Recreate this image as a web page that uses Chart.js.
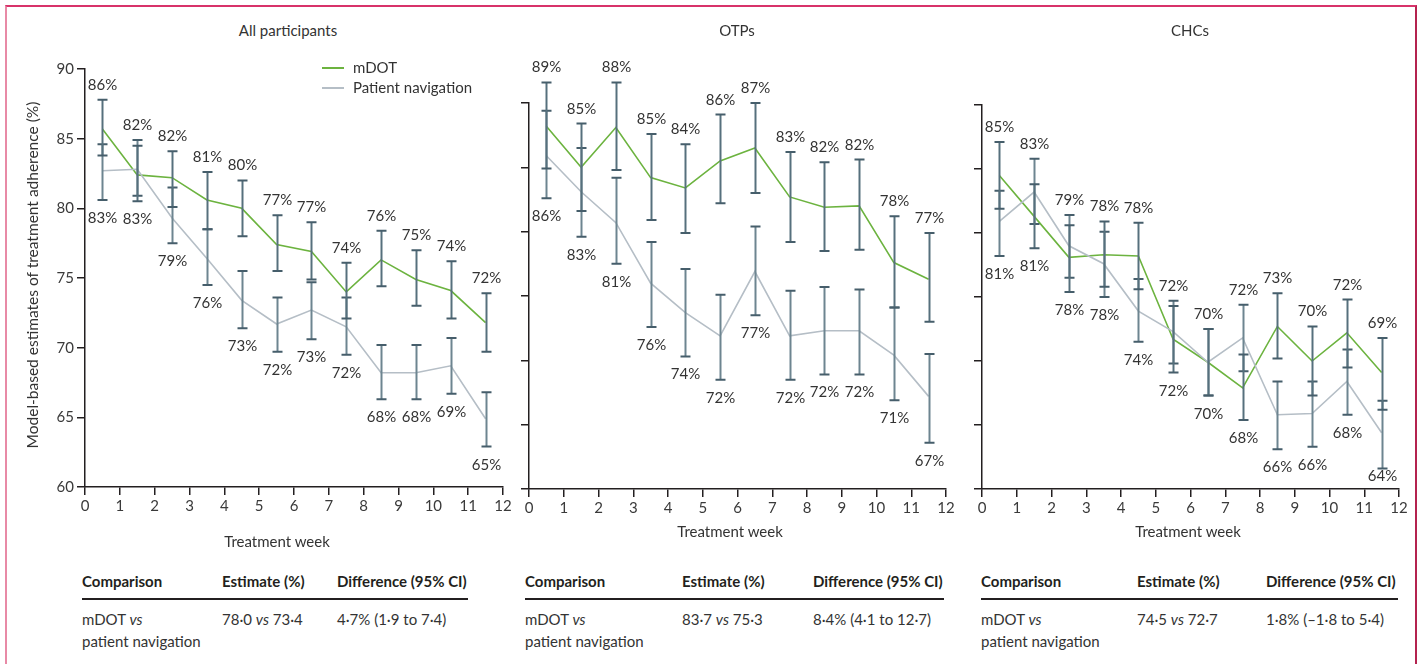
<!DOCTYPE html>
<html>
<head>
<meta charset="utf-8">
<script src="https://cdn.jsdelivr.net/npm/chart.js@4.4.1/dist/chart.umd.min.js"></script>
<style>
  body { margin: 0; background: #fff; font-family: Lato, "Open Sans", sans-serif; color: #333; }
  #page { position: relative; width: 1423px; height: 664px; overflow: hidden; }
  canvas { position: absolute; }
  .txt { position: absolute; font-size: 15px; white-space: nowrap; line-height: 18px; }
  .title { text-align: center; width: 200px; }
  .hdr { font-weight: bold; color: #231f20; }
  .rule { position: absolute; height: 2px; background: #231f20; }
  .leg { position: absolute; height: 2px; width: 22px; }
  #frame { position: absolute; left: 5px; top: 5px; width: 1408px; height: 700px;
           border-top: 2px solid #d8336a; border-left: 2px solid #e88aa6; border-right: 2px solid #b4234f; }
</style>
</head>
<body>
<div id="page">
  <div id="frame"></div>
  <canvas id="c1" width="500" height="500" style="left:20px;top:40px;width:500px;height:500px"></canvas>
  <canvas id="c2" width="450" height="500" style="left:515px;top:40px;width:450px;height:500px"></canvas>
  <canvas id="c3" width="450" height="500" style="left:968px;top:40px;width:450px;height:500px"></canvas>
</div>
<script>
// weeks (mid-points of each treatment week)
var weeks = [0.5, 1.5, 2.5, 3.5, 4.5, 5.5, 6.5, 7.5, 8.5, 9.5, 10.5, 11.5];
var xTicks = [0, 1, 2, 3, 4, 5, 6, 7, 8, 9, 10, 11, 12];
var yTicks = [60, 65, 70, 75, 80, 85, 90];

// All participants
var allM   = [85.7, 82.4, 82.2, 80.6, 80.0, 77.4, 76.9, 74.0, 76.3, 74.9, 74.1, 71.8];
var allMLo = [83.8, 80.5, 80.1, 78.5, 78.0, 75.5, 74.9, 72.1, 74.4, 73.0, 72.1, 69.7];
var allMHi = [87.8, 84.5, 84.1, 82.6, 82.0, 79.5, 79.0, 76.1, 78.4, 77.0, 76.2, 73.9];
var allP   = [82.7, 82.8, 79.3, 76.4, 73.4, 71.7, 72.7, 71.5, 68.2, 68.2, 68.7, 64.9];
var allPLo = [80.6, 80.9, 77.5, 74.5, 71.4, 69.7, 70.6, 69.5, 66.3, 66.3, 66.7, 62.9];
var allPHi = [84.6, 84.9, 81.5, 78.5, 75.5, 73.6, 74.7, 73.6, 70.2, 70.2, 70.7, 66.8];
var allTop = [86, 82, 82, 81, 80, 77, 77, 74, 76, 75, 74, 72];
var allBot = [83, 83, 79, 76, 73, 72, 73, 72, 68, 68, 69, 65];

// OTPs
var otpM   = [88.2, 85.0, 88.1, 84.2, 83.4, 85.5, 86.5, 82.7, 81.9, 82.0, 77.6, 76.3];
var otpMLo = [84.9, 81.6, 84.8, 80.9, 79.9, 82.2, 83.0, 79.2, 78.5, 78.6, 74.1, 73.0];
var otpMHi = [91.6, 88.4, 91.6, 87.6, 86.8, 89.1, 90.0, 86.2, 85.4, 85.6, 81.2, 79.9];
var otpP   = [85.9, 83.1, 80.7, 76.0, 73.7, 71.9, 76.9, 71.9, 72.3, 72.3, 70.4, 67.2];
var otpPLo = [82.6, 79.6, 77.5, 72.6, 70.3, 68.5, 73.5, 68.5, 68.9, 68.9, 66.9, 63.6];
var otpPHi = [89.4, 86.5, 84.2, 79.2, 77.1, 75.1, 80.4, 75.4, 75.7, 75.5, 74.1, 70.5];
var otpTop = [89, 85, 88, 85, 84, 86, 87, 83, 82, 82, 78, 77];
var otpBot = [86, 83, 81, 76, 74, 72, 77, 72, 72, 72, 71, 67];

// CHCs
var chcM   = [84.5, 81.3, 78.1, 78.3, 78.2, 71.7, 69.9, 67.9, 72.7, 70.0, 72.2, 69.1];
var chcMLo = [81.9, 78.8, 75.4, 75.8, 75.6, 69.1, 67.3, 65.4, 70.2, 67.3, 69.5, 66.2];
var chcMHi = [87.1, 83.8, 80.6, 80.9, 80.8, 74.3, 72.5, 70.5, 75.3, 72.7, 74.8, 71.8];
var chcP   = [80.9, 83.2, 79.0, 77.6, 73.9, 72.3, 69.9, 71.8, 65.8, 65.9, 68.4, 64.4];
var chcPLo = [78.2, 80.7, 76.5, 75.0, 71.5, 69.8, 67.3, 69.2, 63.1, 63.3, 65.8, 61.6];
var chcPHi = [83.3, 85.8, 81.4, 80.1, 76.4, 74.7, 72.5, 74.4, 68.4, 68.4, 70.9, 66.9];
var chcTop = [85, 83, 79, 78, 78, 72, 70, 72, 73, 70, 72, 69];
var chcBot = [81, 81, 78, 78, 74, 72, 70, 68, 66, 66, 68, 64];

// tables under each panel
var tblHeads = ["Comparison", "Estimate (%)", "Difference (95% CI)"];
var tblEst = ["78·0 <i>vs</i> 73·4", "83·7 <i>vs</i> 75·3", "74·5 <i>vs</i> 72·7"];
var tblDiff = ["4·7% (1·9 to 7·4)", "8·4% (4·1 to 12·7)", "1·8% (–1·8 to 5·4)"];

var titles = ["All participants", "OTPs", "CHCs"];

var green = "#6cb33f";
var grey = "#b5bec6";
var axisCol = "#231f20";

Chart.defaults.font.family = "Lato";
Chart.defaults.font.size = 15;
Chart.defaults.color = "#3a3a3a";

var errorBars = {
  id: "errorBars",
  afterDatasetsDraw: function(chart, args, opts) {
    var ctx = chart.ctx;
    var xs = chart.scales.x, ys = chart.scales.y;
    var bottom = chart.chartArea.bottom;
    ctx.save();
    for (var i = 0; i < weeks.length; i++) {
      var x = Math.round(xs.getPixelForValue(weeks[i])) + 0.5;
      var sets = [[opts.pLo[i], opts.pHi[i]], [opts.mLo[i], opts.mHi[i]]];
      sets.forEach(function(s, k) {
        var y1 = ys.getPixelForValue(s[0]), y2 = ys.getPixelForValue(s[1]);
        ctx.strokeStyle = k == 0 ? "#6d8590" : "#56707d";
        ctx.lineWidth = 2;
        ctx.beginPath(); ctx.moveTo(x, y1); ctx.lineTo(x, y2); ctx.stroke();
        ctx.strokeStyle = "#465e6b";
        ctx.beginPath();
        ctx.moveTo(x - 5, y1); ctx.lineTo(x + 5, y1);
        ctx.moveTo(x - 5, y2); ctx.lineTo(x + 5, y2);
        ctx.stroke();
      });
      var hi = Math.max(opts.mHi[i], opts.pHi[i]);
      var lo = Math.min(opts.mLo[i], opts.pLo[i]);
      ctx.fillStyle = "#333";
      ctx.font = "15px Lato";
      ctx.textAlign = "center";
      ctx.textBaseline = "alphabetic";
      ctx.fillText(opts.top[i] + "%", x, ys.getPixelForValue(hi) - 10);
      // keep the lower label clear of the x axis
      var yb = Math.min(ys.getPixelForValue(lo) + 23, bottom - 8);
      ctx.fillText(opts.bot[i] + "%", x, yb);
    }
    ctx.restore();
  }
};

function makePanel(id, m, mLo, mHi, p, pLo, pHi, top, bot, pad, yWidth, xHeight, showY) {
  return new Chart(document.getElementById(id), {
    type: "line",
    data: {
      datasets: [
        { label: "Patient navigation", data: weeks.map(function(w, i) { return { x: w, y: p[i] }; }),
          borderColor: grey, borderWidth: 1.6, pointRadius: 0, tension: 0 },
        { label: "mDOT", data: weeks.map(function(w, i) { return { x: w, y: m[i] }; }),
          borderColor: green, borderWidth: 1.6, pointRadius: 0, tension: 0 }
      ]
    },
    options: {
      responsive: false,
      animation: false,
      layout: { padding: pad },
      plugins: {
        legend: { display: false },
        tooltip: { enabled: false },
        errorBars: { m: m, mLo: mLo, mHi: mHi, pLo: pLo, pHi: pHi, top: top, bot: bot }
      },
      scales: {
        x: {
          type: "linear", min: 0, max: 12,
          afterBuildTicks: function(s) { s.ticks = xTicks.map(function(v) { return { value: v }; }); },
          afterFit: function(s) { s.height = xHeight; },
          ticks: { autoSkip: false, maxRotation: 0, padding: 2 },
          grid: { drawOnChartArea: false, tickLength: 8, color: axisCol, lineWidth: 1.5 },
          border: { color: axisCol, width: 1.5 }
        },
        y: {
          type: "linear", min: 60, max: 90,
          afterBuildTicks: function(s) { s.ticks = yTicks.map(function(v) { return { value: v }; }); },
          afterFit: function(s) { s.width = yWidth; },
          ticks: { display: showY, padding: 3 },
          grid: { drawOnChartArea: false, tickLength: 8, color: axisCol, lineWidth: 1.5 },
          border: { color: axisCol, width: 1.5 }
        }
      }
    },
    plugins: [errorBars]
  });
}

makePanel("c1", allM, allMLo, allMHi, allP, allPLo, allPHi, allTop, allBot,
  { left: 0, right: 17, top: 29, bottom: 0 }, 65, 53, true);
makePanel("c2", otpM, otpMLo, otpMHi, otpP, otpPLo, otpPHi, otpTop, otpBot,
  { left: 0, right: 19, top: 63, bottom: 0 }, 14, 51, false);
makePanel("c3", chcM, chcMLo, chcMHi, chcP, chcPLo, chcPHi, chcTop, chcBot,
  { left: 0, right: 19, top: 65, bottom: 0 }, 14, 51, false);

// html text: titles, axis titles, legend, tables
var page = document.getElementById("page");
function addText(html, left, top, cls, extra) {
  var d = document.createElement("div");
  d.className = "txt " + (cls || "");
  d.innerHTML = html;
  d.style.left = left + "px";
  d.style.top = top + "px";
  if (extra) d.style.cssText += extra;
  page.appendChild(d);
  return d;
}

var titleX = [288, 737, 1190];
titles.forEach(function(t, i) { addText(t, titleX[i] - 100, 21, "title"); });

addText("Model-based estimates of treatment adherence (%)", 32 - 200, 275 - 9, "",
  "width:400px;text-align:center;transform:rotate(-90deg);font-size:15.5px;");

var weekX = [277, 730, 1188], weekY = [532, 522, 522];
weekX.forEach(function(x, i) { addText("Treatment week", x - 100, weekY[i], "title"); });

// legend
[[green, "mDOT", 68], [grey, "Patient navigation", 88]].forEach(function(l) {
  var s = document.createElement("div");
  s.className = "leg";
  s.style.background = l[0];
  s.style.left = "322px";
  s.style.top = (l[2] - 1) + "px";
  page.appendChild(s);
  addText(l[1], 353, l[2] - 10);
});

// tables
var colX = [[82, 222, 337], [525, 682, 813], [981, 1137, 1266]];
var ruleR = [468, 944, 1398];
colX.forEach(function(c, i) {
  tblHeads.forEach(function(h, k) { addText(h, c[k], 572, "hdr"); });
  var r = document.createElement("div");
  r.className = "rule";
  r.style.left = c[0] + "px";
  r.style.top = "598px";
  r.style.width = (ruleR[i] - c[0]) + "px";
  page.appendChild(r);
  addText("mDOT <i>vs</i>", c[0], 610);
  addText("patient navigation", c[0], 632);
  addText(tblEst[i], c[1], 610);
  addText(tblDiff[i], c[2], 610);
});
</script>
</body>
</html>
